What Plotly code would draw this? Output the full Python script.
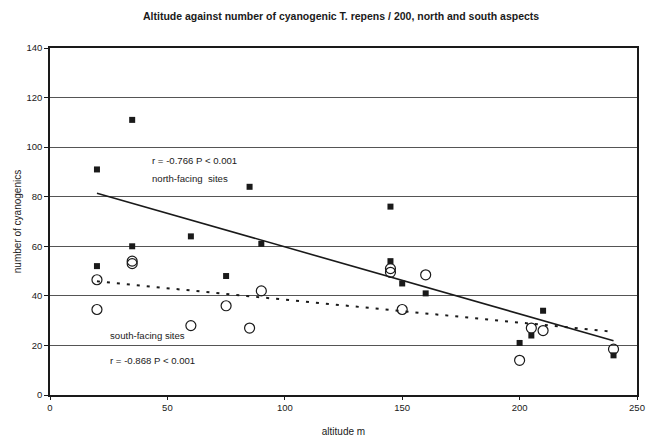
import numpy as np
import plotly.graph_objects as go

# Data
altitude = [20, 20, 35, 35, 60, 75, 85, 90, 145, 145, 150, 160, 200, 205, 210, 240]
north_cyanogenics = [91, 52, 111, 60, 64, 48, 84, 61, 76, 54, 45, 41, 21, 24, 34, 16]
south_cyanogenics = [46.5, 34.5, 54, 53, 28, 36, 27, 42, 51, 49.5, 34.5, 48.5, 14, 27, 26, 18.5]

x_ticks = [0, 50, 100, 150, 200, 250]
y_ticks = [0, 20, 40, 60, 80, 100, 120, 140]

title_text = "Altitude against number of cyanogenic T. repens / 200, north and south aspects"
north_label = ["r = -0.766 P < 0.001", "north-facing  sites"]
south_label = ["south-facing sites", "r = -0.868 P < 0.001"]

FONT = "Liberation Sans, Arial, sans-serif"
INK = "#1a1a1a"

# Least-squares trend lines computed from the data
xa = np.array(altitude, dtype=float)
fit_x = np.array([min(altitude), max(altitude)], dtype=float)
n_coef = np.polyfit(xa, np.array(north_cyanogenics, dtype=float), 1)
s_coef = np.polyfit(xa, np.array(south_cyanogenics, dtype=float), 1)
n_fit = np.polyval(n_coef, fit_x)
s_fit = np.polyval(s_coef, fit_x)

fig = go.Figure()

fig.add_trace(go.Scatter(
    x=fit_x, y=n_fit, mode="lines",
    line=dict(color=INK, width=1.6), showlegend=False, hoverinfo="skip"))
fig.add_trace(go.Scatter(
    x=fit_x, y=s_fit, mode="lines",
    line=dict(color=INK, width=2, dash="3px,7px"), showlegend=False, hoverinfo="skip"))

fig.add_trace(go.Scatter(
    x=altitude, y=south_cyanogenics, mode="markers",
    marker=dict(symbol="circle-open", size=10, color=INK, line=dict(width=1.2, color=INK)),
    showlegend=False, name="south-facing"))
fig.add_trace(go.Scatter(
    x=altitude, y=north_cyanogenics, mode="markers",
    marker=dict(symbol="square", size=6, color=INK),
    showlegend=False, name="north-facing"))


def add_text(x, y, text):
    fig.add_annotation(x=x, y=y, xref="x", yref="y", text=text, showarrow=False,
                       xanchor="left", yanchor="middle",
                       font=dict(family=FONT, size=9.6, color=INK))


add_text(42.5, 94.5, north_label[0])
add_text(42.5, 87.5, north_label[1])
add_text(24.5, 24.0, south_label[0])
add_text(24.5, 14.0, south_label[1])

fig.update_layout(
    width=646, height=440,
    margin=dict(l=50, r=9, t=48, b=45, autoexpand=False),
    paper_bgcolor="white", plot_bgcolor="white",
    font=dict(family=FONT, size=9, color=INK),
    title=dict(text="<b>" + title_text + "</b>", x=0.528, xanchor="center",
               y=0.962, yanchor="middle", font=dict(family=FONT, size=10.5, color=INK)),
    xaxis=dict(range=[0, 250], tickvals=x_ticks, showgrid=False, zeroline=False,
               automargin=False, ticklabeloverflow="allow",
               showline=True, mirror=True, linecolor=INK, linewidth=1.5,
               ticks="outside", ticklen=3, tickcolor=INK,
               tickfont=dict(family=FONT, size=9.5, color=INK),
               title=dict(text="altitude m", standoff=16,
                          font=dict(family=FONT, size=10, color=INK))),
    yaxis=dict(range=[0, 140], tickvals=y_ticks, showgrid=True, gridcolor="#555555",
               gridwidth=1, zeroline=False, automargin=False,
               showline=True, mirror=True, linecolor=INK, linewidth=1.5,
               ticks="outside", ticklen=4, tickcolor=INK,
               tickfont=dict(family=FONT, size=9.5, color=INK),
               title=dict(text="number of cyanogenics", standoff=3,
                          font=dict(family=FONT, size=10, color=INK))),
)

fig.write_html("out.html")
